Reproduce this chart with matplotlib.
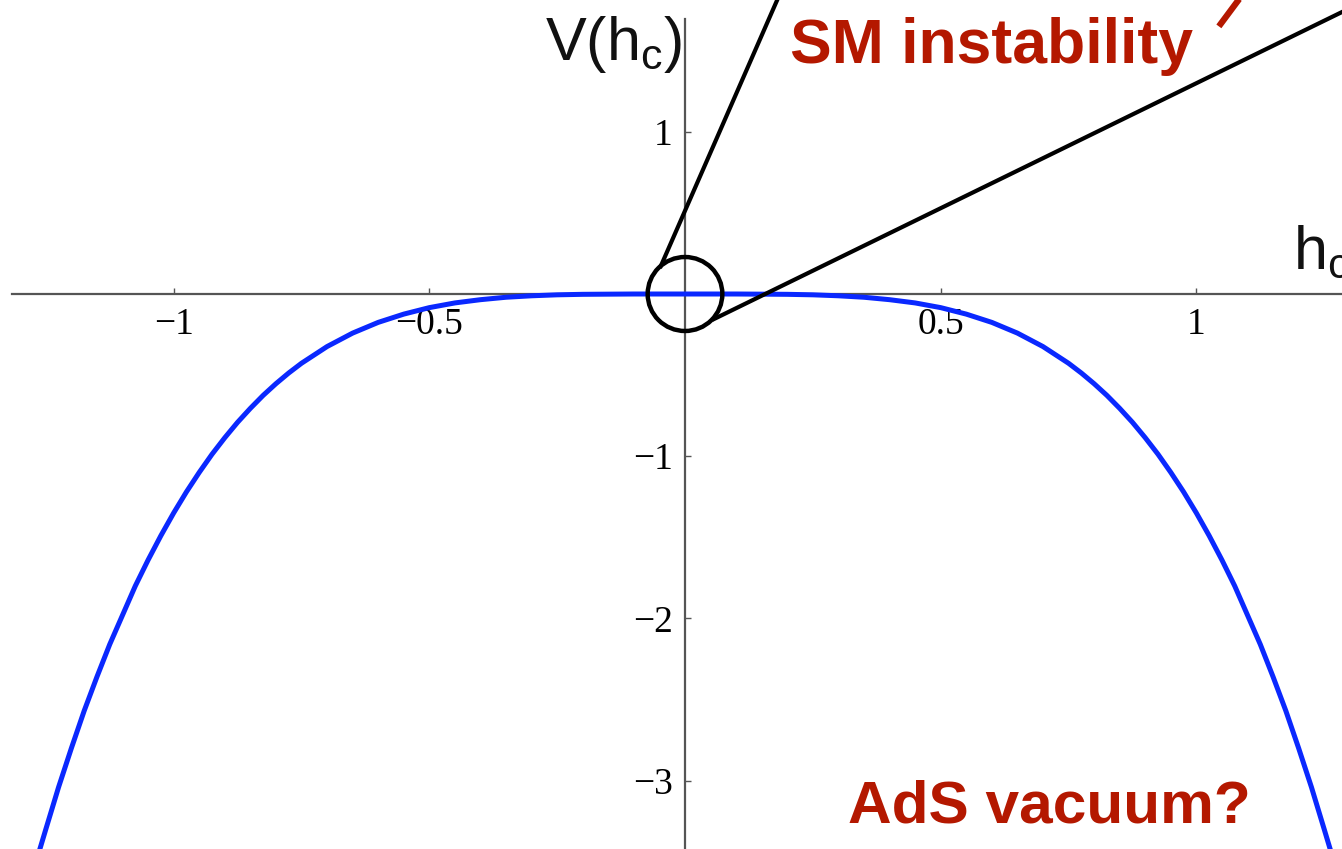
import matplotlib
matplotlib.use('Agg')
import matplotlib.pyplot as plt
from matplotlib.patches import Ellipse

plt.rcParams.update({
    'font.family':       'Liberation Serif',
    'mathtext.fontset':  'custom',
    'mathtext.rm':       'Liberation Sans',
    'mathtext.it':       'Liberation Sans',
})

# ── data ─────────────────────────────────────────────────────────────────────
H = [-1.27, -1.25, -1.225, -1.20, -1.175, -1.15, -1.125, -1.10, -1.075, -1.05,
     -1.025, -1.00, -0.975, -0.95, -0.925, -0.90, -0.875, -0.85, -0.825, -0.80,
     -0.775, -0.75, -0.70, -0.65, -0.60, -0.55, -0.50, -0.45, -0.40, -0.35,
     -0.30, -0.25, -0.20, -0.15, -0.10, -0.05, 0.00, 0.05, 0.10, 0.15,
     0.20, 0.25, 0.30, 0.35, 0.40, 0.45, 0.50, 0.55, 0.60, 0.65,
     0.70, 0.75, 0.775, 0.80, 0.825, 0.85, 0.875, 0.90, 0.925, 0.95,
     0.975, 1.00, 1.025, 1.05, 1.075, 1.10, 1.125, 1.15, 1.175, 1.20,
     1.225, 1.25, 1.27]
V = [-3.51, -3.30, -3.04, -2.80, -2.57, -2.36, -2.16, -1.98, -1.80, -1.64,
     -1.49, -1.35, -1.22, -1.10, -0.988, -0.886, -0.791, -0.705, -0.625, -0.553,
     -0.487, -0.427, -0.324, -0.241, -0.175, -0.124, -0.084, -0.055, -0.035, -0.020,
     -0.011, -0.005, -0.002, -0.001, 0.000, 0.000, 0.000, 0.000, 0.000, -0.001,
     -0.002, -0.005, -0.011, -0.020, -0.035, -0.055, -0.084, -0.124, -0.175, -0.241,
     -0.324, -0.427, -0.487, -0.553, -0.625, -0.705, -0.791, -0.886, -0.988, -1.10,
     -1.22, -1.35, -1.49, -1.64, -1.80, -1.98, -2.16, -2.36, -2.57, -2.80,
     -3.04, -3.30, -3.51]

XTICKS = [-1, -0.5, 0.5, 1]
XTICKLABELS = ['\u22121', '\u22120.5', '0.5', '1']
YTICKS = [1, -1, -2, -3]
YTICKLABELS = ['1', '\u22121', '\u22122', '\u22123']

# zoom-in lines (from the small circle to the inset off-frame)
ZOOM_L1_H = [-0.049, 0.234]
ZOOM_L1_V = [0.160, 2.20]
ZOOM_L2_H = [0.053, 1.40]
ZOOM_L2_V = [-0.160, 1.916]
CIRC_W, CIRC_H = 0.146, 0.456
RED_MARK_H = [1.044, 1.103]
RED_MARK_V = [1.650, 1.90]

C_CURVE = '#0a28ff'
C_RED   = '#b41800'
C_AXIS  = '#555555'

XLIM = (-1.3396, 1.2848)
YLIM = (-3.4217, 1.8126)

fig = plt.figure(figsize=(13.42, 8.49), dpi=100)
ax = fig.add_axes([0, 0, 1, 1])
ax.set_xlim(*XLIM)
ax.set_ylim(*YLIM)

# axes through the origin
for s in ('top', 'right'):
    ax.spines[s].set_visible(False)
ax.spines['left'].set_position(('data', 0))
ax.spines['bottom'].set_position(('data', 0))
ax.spines['left'].set_bounds(YLIM[0], 1.695)
ax.spines['bottom'].set_bounds(-1.316, XLIM[1])
for s in ('left', 'bottom'):
    ax.spines[s].set_color(C_AXIS)
    ax.spines[s].set_linewidth(1.6)
    ax.spines[s].set_zorder(1)

ax.set_xticks(XTICKS)
ax.set_xticklabels(XTICKLABELS)
ax.set_yticks(YTICKS)
ax.set_yticklabels(YTICKLABELS)
ax.tick_params(axis='both', direction='in', length=4, width=1.0,
               color=C_AXIS, labelsize=27)
ax.tick_params(axis='x', pad=10)
ax.tick_params(axis='y', pad=9)

# potential curve
ax.plot(H, V, color=C_CURVE, linewidth=3.6, zorder=3,
        solid_joinstyle='round')

# zoom circle + lines
ax.add_patch(Ellipse((0, 0), CIRC_W, CIRC_H, fill=False, edgecolor='black',
                     linewidth=3.2, zorder=4))
ax.plot(ZOOM_L1_H, ZOOM_L1_V, color='black', linewidth=3.0, zorder=4,
        solid_capstyle='butt')
ax.plot(ZOOM_L2_H, ZOOM_L2_V, color='black', linewidth=3.0, zorder=4,
        solid_capstyle='butt')
ax.plot(RED_MARK_H, RED_MARK_V, color=C_RED, linewidth=4.5, zorder=4,
        solid_capstyle='butt')

# axis labels (the h_c label runs off the right edge, as in the original)
ax.text(-0.274, 1.443, r'$\mathrm{V(h_c)}$', fontsize=44, color='#111111',
        ha='left', va='baseline')
ax.text(1.189, 0.160, r'$\mathrm{h_c}$', fontsize=44, color='#111111',
        ha='left', va='baseline')

# annotations
ax.text(0.2053, 1.424, 'SM instability', fontsize=45, color=C_RED,
        fontweight='bold', family='Liberation Sans', ha='left', va='baseline')
ax.text(0.3188, -3.261, 'AdS vacuum?', fontsize=43.5, color=C_RED,
        fontweight='bold', family='Liberation Sans', ha='left', va='baseline')

fig.savefig('out.png', dpi=100)
